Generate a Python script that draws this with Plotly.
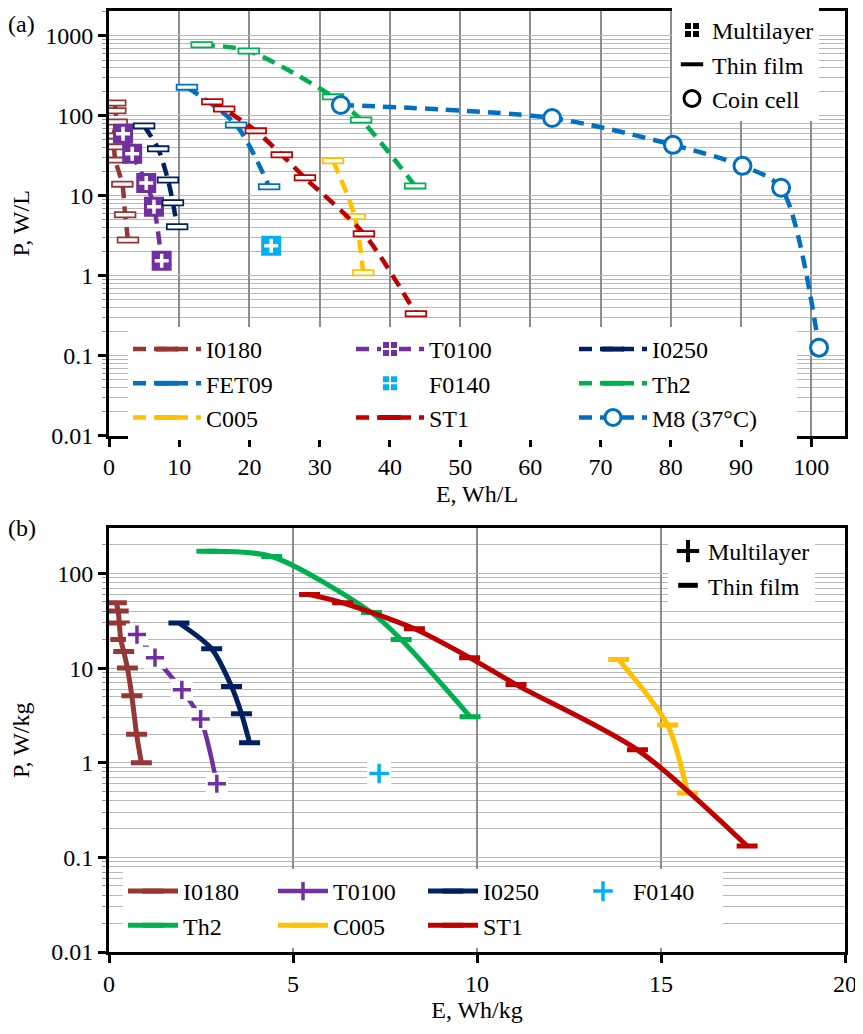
import plotly.graph_objects as go

FONT = "Liberation Serif"
FS = 24

# ---------------- Panel (a): volumetric ----------------
a_I0180_E = [0.9, 0.9, 1.1, 0.6, 0.7, 0.9, 1.9, 2.3, 2.7]
a_I0180_P = [145, 116, 84, 56, 41, 28, 14, 5.8, 2.8]
a_T0100_E = [2.0, 3.3, 5.3, 6.4, 7.5]
a_T0100_P = [60, 33.5, 14.5, 7.3, 1.54]
a_I0250_E = [5.0, 7.0, 8.4, 9.1, 9.7]
a_I0250_P = [75, 38.7, 15.8, 8.2, 4.1]
a_FET09_E = [11.1, 18.1, 22.8]
a_FET09_P = [229, 77, 13.0]
a_F0140_E = [23.1]
a_F0140_P = [2.37]
a_Th2_E = [13.2, 19.9, 31.9, 35.9, 43.6]
a_Th2_P = [775, 648, 173, 89, 13.3]
a_C005_E = [31.9, 35.0, 36.2]
a_C005_P = [27.5, 5.5, 1.09]
a_ST1_E = [14.7, 16.4, 20.9, 24.6, 27.9, 36.3, 43.7]
a_ST1_P = [150, 122, 65, 32.6, 16.8, 3.35, 0.335]
a_M8_E = [33.0, 63.1, 80.3, 90.2, 95.7, 101.1]
a_M8_P = [137, 94, 43.4, 23.7, 12.6, 0.126]

# ---------------- Panel (b): gravimetric ----------------
b_I0180_E = [0.2, 0.25, 0.28, 0.32, 0.4, 0.5, 0.62, 0.75, 0.88]
b_I0180_P = [49, 40, 30, 20, 15, 10, 5.1, 2.0, 1.0]
b_T0100_E = [0.76, 1.25, 1.98, 2.49, 2.93]
b_T0100_P = [22.6, 12.9, 5.9, 2.9, 0.60]
b_I0250_E = [1.9, 2.79, 3.33, 3.6, 3.82]
b_I0250_P = [30, 16, 6.4, 3.3, 1.63]
b_F0140_E = [7.34]
b_F0140_P = [0.77]
b_Th2_E = [2.66, 4.42, 7.13, 7.94, 9.81]
b_Th2_P = [172, 151, 38.6, 20, 3.07]
b_C005_E = [13.85, 15.18, 15.72]
b_C005_P = [12.3, 2.5, 0.48]
b_ST1_E = [5.45, 6.35, 8.3, 9.8, 11.06, 14.36, 17.34]
b_ST1_P = [60, 49, 26, 12.9, 6.7, 1.37, 0.132]

C = {
    "I0180": "#953735", "T0100": "#7030A0", "I0250": "#002060",
    "FET09": "#0070C0", "F0140": "#00B0F0", "Th2": "#00B050",
    "C005": "#FFC000", "ST1": "#C00000", "M8": "#0070C0",
}

DASH = "13px,8px"
fig = go.Figure()


def a_thin(x, y, key, name):
    col = C[key]
    fig.add_trace(go.Scatter(
        x=x, y=y, mode="lines+markers", name=name, legend="legend",
        line=dict(color=col, width=4.5, dash=DASH, shape="spline", smoothing=0.8),
        marker=dict(symbol="line-ew", size=16, color=col, line=dict(color=col, width=7)),
        xaxis="x", yaxis="y"))
    fig.add_trace(go.Scatter(
        x=x, y=y, mode="markers", showlegend=False, hoverinfo="skip",
        marker=dict(symbol="line-ew", size=13.5, color="white", line=dict(color="white", width=3.4)),
        xaxis="x", yaxis="y"))


def a_multi(x, y, key, name, lines):
    col = C[key]
    fig.add_trace(go.Scatter(
        x=[None], y=[None], mode="lines+markers" if lines else "markers", name=name, legend="legend",
        line=dict(color=col, width=4.5, dash=DASH),
        marker=dict(symbol="square-cross", size=16, color=col, line=dict(color="white", width=2)),
        xaxis="x", yaxis="y"))
    fig.add_trace(go.Scatter(
        x=x, y=y, mode="lines+markers" if lines else "markers", showlegend=False,
        line=dict(color=col, width=4.5, dash=DASH, shape="spline", smoothing=0.8),
        marker=dict(symbol="square", size=20, color=col, line=dict(width=0)),
        xaxis="x", yaxis="y"))
    fig.add_trace(go.Scatter(
        x=x, y=y, mode="markers", showlegend=False, hoverinfo="skip",
        marker=dict(symbol="cross-thin", size=10, color="white", line=dict(color="white", width=3.5)),
        xaxis="x", yaxis="y"))


a_thin(a_I0180_E, a_I0180_P, "I0180", "I0180")
a_multi(a_T0100_E, a_T0100_P, "T0100", "T0100", True)
a_thin(a_I0250_E, a_I0250_P, "I0250", "I0250")
a_thin(a_FET09_E, a_FET09_P, "FET09", "FET09")
a_multi(a_F0140_E, a_F0140_P, "F0140", "F0140", False)
a_thin(a_Th2_E, a_Th2_P, "Th2", "Th2")
a_thin(a_C005_E, a_C005_P, "C005", "C005")
a_thin(a_ST1_E, a_ST1_P, "ST1", "ST1")
fig.add_trace(go.Scatter(
    x=a_M8_E, y=a_M8_P, mode="lines+markers", name="M8 (37°C)", legend="legend",
    line=dict(color=C["M8"], width=4.5, dash=DASH, shape="spline", smoothing=0.8),
    marker=dict(symbol="circle", size=17, color="white", line=dict(color=C["M8"], width=3)),
    xaxis="x", yaxis="y"))

# key legend (a)
fig.add_trace(go.Scatter(x=[None], y=[None], mode="markers", name="Multilayer", legend="legend2",
                         marker=dict(symbol="square-cross", size=16, color="black", line=dict(color="white", width=2)),
                         xaxis="x", yaxis="y"))
fig.add_trace(go.Scatter(x=[None], y=[None], mode="markers", name="Thin film", legend="legend2",
                         marker=dict(symbol="line-ew", size=16, color="black", line=dict(color="black", width=4)),
                         xaxis="x", yaxis="y"))
fig.add_trace(go.Scatter(x=[None], y=[None], mode="markers", name="Coin cell", legend="legend2",
                         marker=dict(symbol="circle", size=16, color="white", line=dict(color="black", width=3)),
                         xaxis="x", yaxis="y"))


# ---------------- panel (b) traces ----------------
def b_thin(x, y, key, name):
    col = C[key]
    fig.add_trace(go.Scatter(
        x=x, y=y, mode="lines+markers", name=name, legend="legend3",
        line=dict(color=col, width=5, shape="spline", smoothing=0.8),
        marker=dict(symbol="line-ew", size=15, color=col, line=dict(color=col, width=5)),
        xaxis="x2", yaxis="y2"))


b_thin(b_I0180_E, b_I0180_P, "I0180", "I0180")
col = C["T0100"]
fig.add_trace(go.Scatter(
    x=b_T0100_E, y=b_T0100_P, mode="lines+markers", name="T0100", legend="legend3",
    line=dict(color=col, width=4.5, shape="spline", smoothing=0.8),
    marker=dict(symbol="cross-thin", size=13, color=col, line=dict(color=col, width=3.5)),
    xaxis="x2", yaxis="y2"))
fig.add_trace(go.Scatter(
    x=b_T0100_E, y=b_T0100_P, mode="markers", showlegend=False, hoverinfo="skip",
    marker=dict(symbol="square", size=22, color="white", line=dict(width=0)),
    xaxis="x2", yaxis="y2"))
fig.add_trace(go.Scatter(
    x=b_T0100_E, y=b_T0100_P, mode="markers", showlegend=False,
    marker=dict(symbol="cross-thin", size=13, color=col, line=dict(color=col, width=3.5)),
    xaxis="x2", yaxis="y2"))
b_thin(b_I0250_E, b_I0250_P, "I0250", "I0250")
col = C["F0140"]
fig.add_trace(go.Scatter(
    x=b_F0140_E, y=b_F0140_P, mode="markers", showlegend=False, hoverinfo="skip",
    marker=dict(symbol="square", size=24, color="white", line=dict(width=0)),
    xaxis="x2", yaxis="y2"))
fig.add_trace(go.Scatter(
    x=b_F0140_E, y=b_F0140_P, mode="markers", name="F0140", legend="legend3",
    marker=dict(symbol="cross-thin", size=14, color=col, line=dict(color=col, width=3.5)),
    xaxis="x2", yaxis="y2"))
b_thin(b_Th2_E, b_Th2_P, "Th2", "Th2")
b_thin(b_C005_E, b_C005_P, "C005", "C005")
b_thin(b_ST1_E, b_ST1_P, "ST1", "ST1")

# key legend (b)
fig.add_trace(go.Scatter(x=[None], y=[None], mode="markers", name="Multilayer", legend="legend4",
                         marker=dict(symbol="cross-thin", size=16, color="black", line=dict(color="black", width=4)),
                         xaxis="x2", yaxis="y2"))
fig.add_trace(go.Scatter(x=[None], y=[None], mode="markers", name="Thin film", legend="legend4",
                         marker=dict(symbol="line-ew", size=14, color="black", line=dict(color="black", width=5)),
                         xaxis="x2", yaxis="y2"))

# ---------------- layout ----------------
OFF = 8  # default page body margin
W, H = 863 - OFF, 1034 - OFF
ML = 109 - OFF
MR = W - (845 - OFF)
GW = W - ML - MR


def px_x(px):
    return (px - OFF - ML) / GW


def px_y(py):
    return 1 - (py - OFF) / H


font = dict(family=FONT, size=FS, color="black")
axis_common = dict(
    showline=True, linewidth=3, linecolor="black", mirror=True,
    ticks="outside", ticklen=8, tickwidth=3, tickcolor="black",
    tickfont=font, zeroline=False, automargin=False,
)
yminor = dict(dtick="D1", showgrid=True, gridcolor="#b8b8b8", gridwidth=1.3,
              ticks="outside", ticklen=4, tickwidth=1, tickcolor="#999")

fig.update_layout(
    width=W, height=H, template="none",
    paper_bgcolor="white", plot_bgcolor="white",
    margin=dict(l=ML, r=MR, t=0, b=0),
    font=font,
    xaxis=dict(domain=[0, 1], anchor="y", range=[0, 104.8], dtick=10, tick0=0,
               showgrid=True, gridcolor="#8c8c8c", gridwidth=1.5,
               title=dict(text="E, Wh/L", font=font, standoff=6), **axis_common),
    yaxis=dict(domain=[px_y(435), px_y(10)], anchor="x", type="log", range=[-2, 3.3125], dtick=1,
               exponentformat="none", showgrid=True, gridcolor="#b8b8b8", gridwidth=1.3,
               minor=yminor, title=dict(text="P, W/L", font=font, standoff=16), **axis_common),
    xaxis2=dict(domain=[0, 1], anchor="y2", range=[0, 20], dtick=5, tick0=0,
                showgrid=True, gridcolor="#8c8c8c", gridwidth=1.5,
                title=dict(text="E, Wh/kg", font=font, standoff=6), **axis_common),
    yaxis2=dict(domain=[px_y(952), px_y(528)], anchor="x2", type="log", range=[-2, 2.475], dtick=1,
                exponentformat="none", showgrid=True, gridcolor="#b8b8b8", gridwidth=1.3,
                minor=yminor, title=dict(text="P, W/kg", font=font, standoff=16), **axis_common),
    legend=dict(orientation="h", x=px_x(128), xanchor="left", y=px_y(327), yanchor="top",
                itemwidth=68, entrywidth=140, entrywidthmode="pixels", bgcolor="white",
                font=font, traceorder="normal"),
    legend2=dict(orientation="v", x=px_x(672), xanchor="left", y=px_y(7), yanchor="top",
                 itemwidth=30, bgcolor="white", font=font, traceorder="normal"),
    legend3=dict(orientation="h", x=px_x(123), xanchor="left", y=px_y(869), yanchor="top",
                 itemwidth=50, entrywidth=85, entrywidthmode="pixels", bgcolor="white",
                 font=font, traceorder="normal"),
    legend4=dict(orientation="v", x=px_x(668), xanchor="left", y=px_y(529), yanchor="top",
                 itemwidth=30, bgcolor="white", font=font, traceorder="normal"),
    annotations=[
        dict(text="(a)", xref="paper", yref="paper", x=px_x(6), y=1.0, xanchor="left",
             yanchor="top", showarrow=False, font=font),
        dict(text="(b)", xref="paper", yref="paper", x=px_x(6), y=px_y(528), xanchor="left",
             yanchor="middle", showarrow=False, font=font),
    ],
)

fig.write_html("out.html")
